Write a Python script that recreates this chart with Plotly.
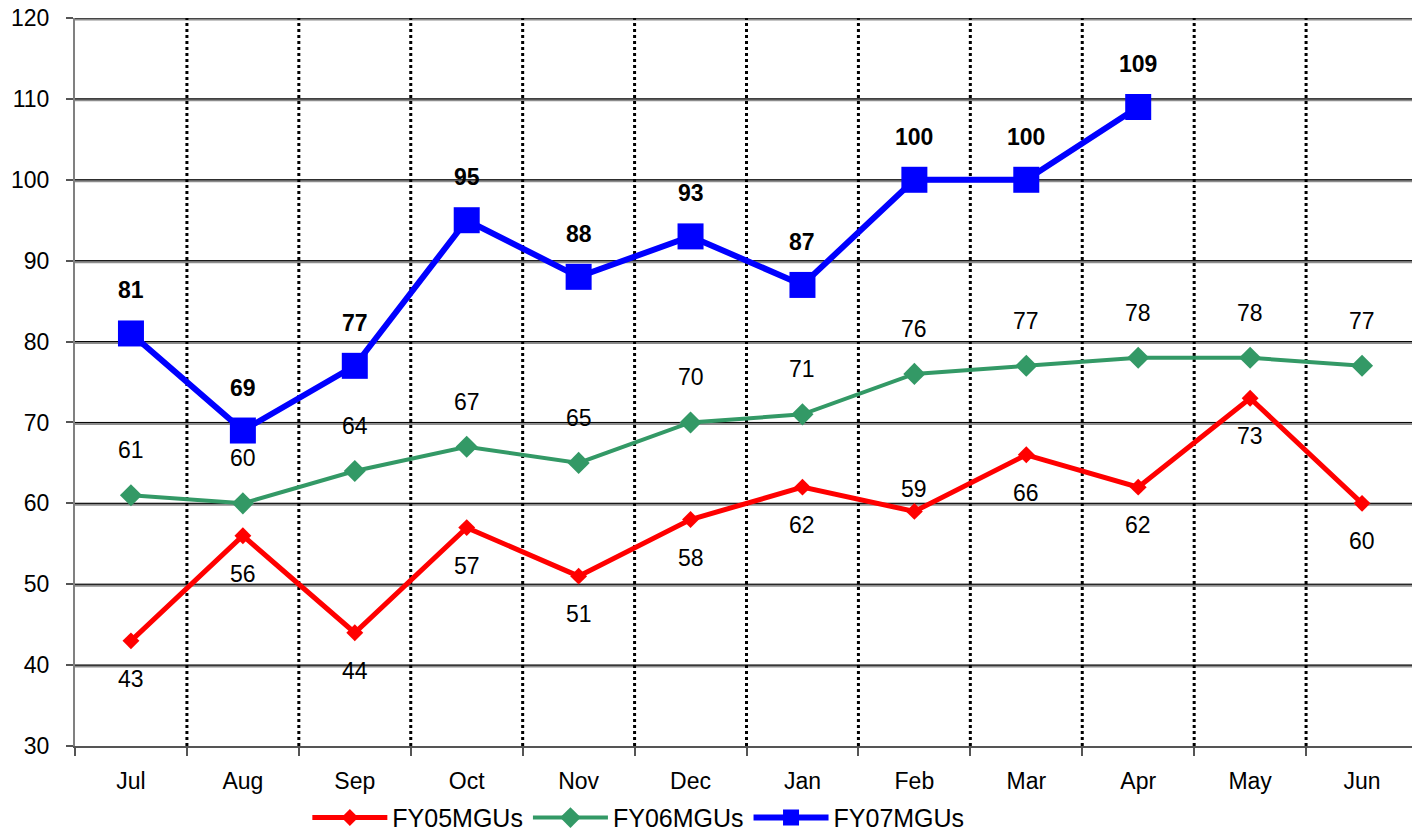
import plotly.graph_objects as go

months = ["Jul", "Aug", "Sep", "Oct", "Nov", "Dec", "Jan", "Feb", "Mar", "Apr", "May", "Jun"]
fy05 = [43, 56, 44, 57, 51, 58, 62, 59, 66, 62, 73, 60]
fy06 = [61, 60, 64, 67, 65, 70, 71, 76, 77, 78, 78, 77]
fy07 = [81, 69, 77, 95, 88, 93, 87, 100, 100, 109]
y_ticks = [30, 40, 50, 60, 70, 80, 90, 100, 110, 120]
# label placement for FY05: +1 above, -1 below
fy05_pos = [-1, -1, -1, -1, -1, -1, -1, 1, -1, -1, -1, -1]

FONT = "Arial, Liberation Sans, sans-serif"
xs = list(range(len(months)))

fig = go.Figure()

shapes = []
for v in y_ticks[1:]:
    shapes.append(dict(type="line", xref="paper", x0=0, x1=1, yref="y", y0=v - 0.12, y1=v - 0.12,
                       line=dict(color="#8c8c8c", width=3), layer="below"))
    shapes.append(dict(type="line", xref="paper", x0=0, x1=1, yref="y", y0=v, y1=v,
                       line=dict(color="#000000", width=1), layer="below"))
for i in range(len(months)):
    b = i + 0.5
    shapes.append(dict(type="line", xref="x", x0=b, x1=b, yref="paper", y0=0, y1=1,
                       line=dict(color="#000000", width=3, dash="dot"), layer="below"))

fig.add_trace(go.Scatter(x=xs, y=fy05, name="FY05MGUs", mode="lines+markers",
                         line=dict(color="#ff0000", width=5),
                         marker=dict(symbol="diamond", size=13, color="#ff0000")))
fig.add_trace(go.Scatter(x=xs, y=fy06, name="FY06MGUs", mode="lines+markers",
                         line=dict(color="#339966", width=4),
                         marker=dict(symbol="diamond", size=17, color="#339966")))
fig.add_trace(go.Scatter(x=xs[:len(fy07)], y=fy07, name="FY07MGUs", mode="lines+markers",
                         line=dict(color="#0000ff", width=6),
                         marker=dict(symbol="square", size=26, color="#0000ff")))

annotations = []
for i, v in enumerate(fy05):
    annotations.append(dict(x=xs[i], y=v, text=str(v), showarrow=False,
                            yshift=(22 if fy05_pos[i] > 0 else -38),
                            font=dict(family=FONT, size=23, color="#000")))
for i, v in enumerate(fy06):
    annotations.append(dict(x=xs[i], y=v, text=str(v), showarrow=False, yshift=45,
                            font=dict(family=FONT, size=23, color="#000")))
for i, v in enumerate(fy07):
    annotations.append(dict(x=xs[i], y=v, text="<b>" + str(v) + "</b>", showarrow=False, yshift=43,
                            font=dict(family=FONT, size=23, color="#000")))

fig.update_layout(
    width=1412, height=828,
    margin=dict(l=67, r=2, t=10, b=90),
    paper_bgcolor="white", plot_bgcolor="white",
    font=dict(family=FONT, size=23, color="#000"),
    shapes=shapes, annotations=annotations,
    showlegend=True,
    legend=dict(orientation="h", xref="container", yref="container",
                x=0.212, xanchor="left", y=0.022, yanchor="middle",
                font=dict(family=FONT, size=25, color="#000"), itemwidth=75,
                bgcolor="rgba(0,0,0,0)", tracegroupgap=0),
    xaxis=dict(range=[-0.5, len(months) - 0.5], tickvals=xs, ticktext=months,
               showgrid=False, zeroline=False, ticks="", ticklabelstandoff=13,
               showline=True, linecolor="#555", linewidth=2, automargin=False,
               minor=dict(ticks="outside", tick0=-0.5, dtick=1, ticklen=8, tickcolor="#555", tickwidth=2, showgrid=False),
               tickfont=dict(family=FONT, size=23)),
    yaxis=dict(range=[30, 120], tickvals=y_ticks, showgrid=False, zeroline=False,
               ticks="outside", ticklen=7, tickcolor="#555", tickwidth=2,
               showline=True, linecolor="#808080", linewidth=2, ticklabelstandoff=12,
               ticklabeloverflow="allow", automargin=False,
               tickfont=dict(family=FONT, size=23)),
)

fig.write_html("out.html")
